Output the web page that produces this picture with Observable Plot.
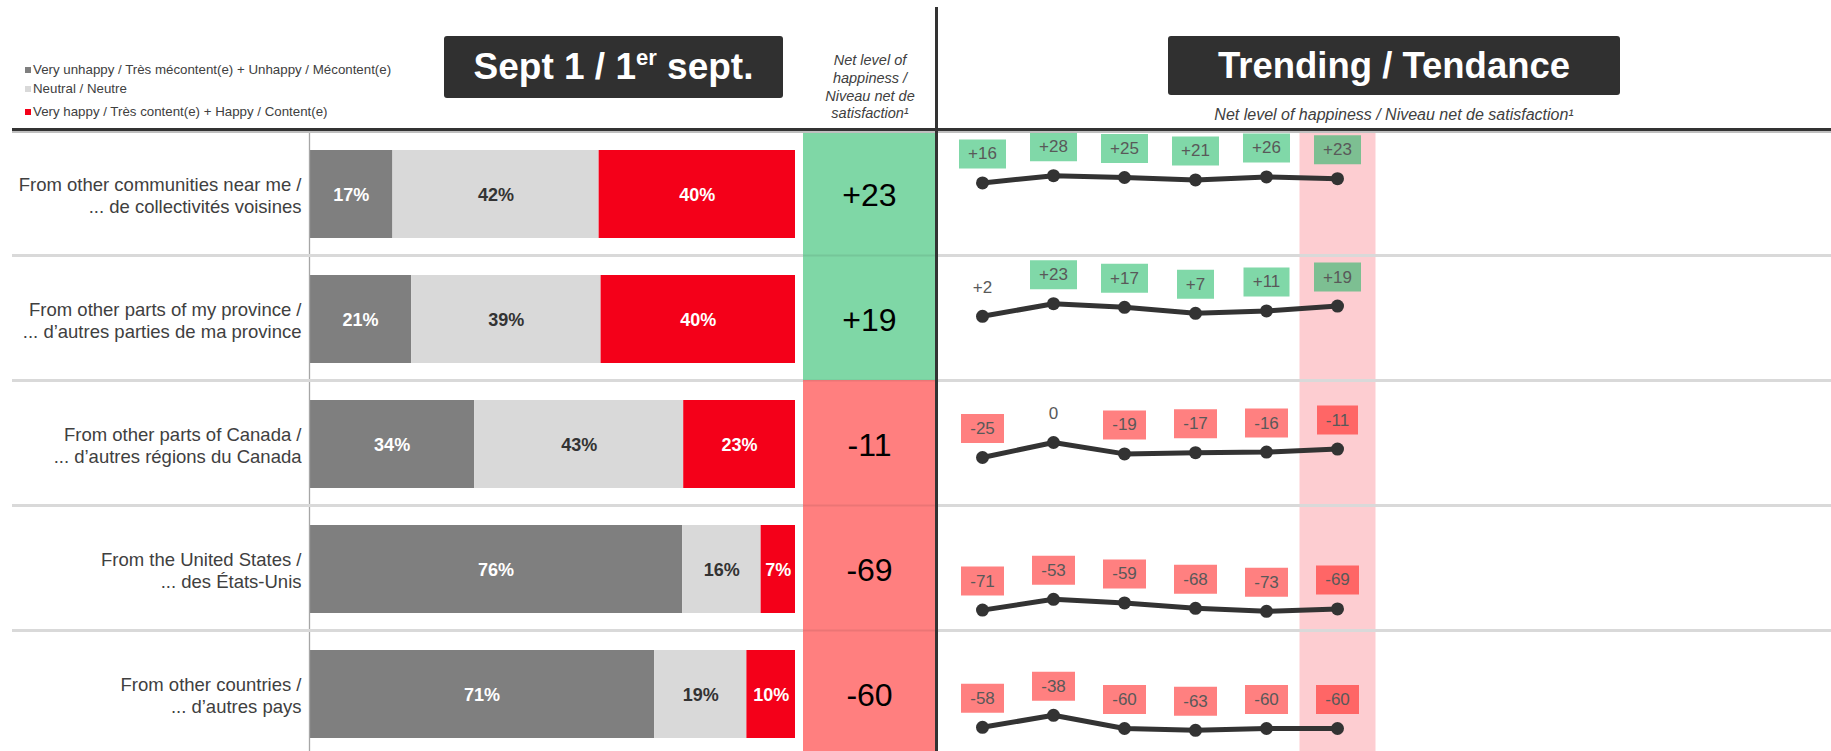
<!DOCTYPE html>
<html>
<head>
<meta charset="utf-8">
<script src="https://cdn.jsdelivr.net/npm/d3@7"></script>
<script src="https://cdn.jsdelivr.net/npm/@observablehq/plot@0.6"></script>
<style>
html, body { margin: 0; padding: 0; background: #fff; overflow: hidden; }
#root { position: relative; width: 1831px; height: 751px; overflow: hidden; font-family: 'Liberation Sans', Arial, Helvetica, sans-serif; color: #404040; }
.abs { position: absolute; }
.leg { position: absolute; left: 25px; height: 16px; line-height: 16px; font-size: 13.3px; color: #404040; white-space: nowrap; }
.leg i { display: inline-block; width: 6px; height: 6px; margin-right: 2px; vertical-align: 1px; }
.titlebox { position: absolute; background: #303030; border-radius: 3px; color: #fff; font-weight: bold; text-align: center; white-space: nowrap; }
.note { position: absolute; font-style: italic; color: #404040; text-align: center; white-space: nowrap; }
</style>
</head>
<body>
<div id="root"></div>
<script>
// ---------- data ----------
const categories = [
  "From other communities near me /\n... de collectivités voisines",
  "From other parts of my province /\n... d’autres parties de ma province",
  "From other parts of Canada /\n... d’autres régions du Canada",
  "From the United States /\n... des États-Unis",
  "From other countries /\n... d’autres pays"
];
const seriesNames = [
  "Very unhappy / Très mécontent(e) + Unhappy / Mécontent(e)",
  "Neutral / Neutre",
  "Very happy / Très content(e) + Happy / Content(e)"
];
const unhappy = [17, 21, 34, 76, 71];
const neutral = [42, 39, 43, 16, 19];
const happy   = [40, 40, 23, 7, 10];
const netLevel = [23, 19, -11, -69, -60];
const periods = ["Wave 1", "Wave 2", "Wave 3", "Wave 4", "Wave 5", "Sept 1"];
const trend1 = [16, 28, 25, 21, 26, 23];
const trend2 = [2, 23, 17, 7, 11, 19];
const trend3 = [-25, 0, -19, -17, -16, -11];
const trend4 = [-71, -53, -59, -68, -73, -69];
const trend5 = [-58, -38, -60, -63, -60, -60];

// ---------- styles ----------
const FONT = "'Liberation Sans', Arial, Helvetica, sans-serif";
const C_UNHAPPY = "#7f7f7f", C_NEUTRAL = "#d9d9d9", C_HAPPY = "#f40019";
const NET_GREEN = "#7fd7a6", NET_RED = "#ff7f7f";
const BOX_GREEN = "#80d8a8", BOX_GREEN_LAST = "#7dbf92", BOX_RED = "#ff8080", BOX_RED_LAST = "#ff6666";
const PINK = "#fdcdd1";
const fmt = v => v > 0 ? "+" + v : String(v);

const root = document.getElementById("root");
function place(el, left, top, z) {
  el.style.position = "absolute";
  el.style.left = left + "px";
  el.style.top = top + "px";
  el.style.zIndex = z;
  root.appendChild(el);
}

// ---------- Plot A: stacked bars + category labels ----------
const barData = [];
categories.forEach((c, i) => {
  [unhappy, neutral, happy].forEach((arr, s) => barData.push({cat: c, series: seriesNames[s], value: arr[i]}));
});
const plotA = Plot.plot({
  width: 803, height: 625,
  marginLeft: 309, marginRight: 8, marginTop: 0, marginBottom: 0,
  style: {background: "transparent", fontFamily: FONT},
  x: {domain: [0, 1], axis: null},
  y: {type: "band", domain: categories, range: [1.5, 626.5], paddingInner: 0.3, paddingOuter: 0.15, axis: null},
  color: {domain: [...seriesNames, "textLight", "textDark"], range: [C_UNHAPPY, C_NEUTRAL, C_HAPPY, "#ffffff", "#333333"]},
  marks: [
    Plot.barX(barData, Plot.stackX({offset: "normalize", x: "value", y: "cat", z: "series", fill: "series"})),
    Plot.text(barData, Plot.stackX({
      offset: "normalize", x: "value", y: "cat", z: "series",
      text: d => d.value + "%",
      fill: d => d.series === seriesNames[1] ? "textDark" : "textLight",
      fontSize: 18, fontWeight: "bold", dy: 1
    })),
    Plot.ruleX([0], {stroke: "#a6a6a6", strokeWidth: 1.3}),
    Plot.text(categories, {y: d => d, text: d => d, frameAnchor: "left", textAnchor: "end", dx: -8,
      fontSize: 18.5, lineHeight: 1.2, fill: "#404040"})
  ]
});
place(plotA, 0, 130, 1);

// ---------- Plot C: trend sparklines ----------
const trendRows = [trend1, trend2, trend3, trend4, trend5];
const trendData = [];
categories.forEach((c, i) => trendRows[i].forEach((v, j) =>
  trendData.push({cat: c, period: periods[j], value: v, last: j === periods.length - 1})));

const mctx = document.createElement("canvas").getContext("2d");
mctx.font = "17px 'Liberation Sans', Arial, sans-serif";
const boxWidth = d => Math.round(mctx.measureText(fmt(d.value)).width + 18);
const boxSymbol = (w, h) => ({draw(context) { context.rect(-w / 2, -h / 2, w, h); }});
const boxed = trendData.filter(d => Math.abs(d.value) >= 5);
const widths = [...new Set(boxed.map(boxWidth))];
const boxFill = d => d.value > 0 ? (d.last ? BOX_GREEN_LAST : BOX_GREEN) : (d.last ? BOX_RED_LAST : BOX_RED);
const boxMarks = widths.map(w => Plot.dot(boxed.filter(d => boxWidth(d) === w), {
  x: "period", y: "value", fy: "cat", symbol: boxSymbol(w, 29), r: 5,
  fill: boxFill, stroke: "none", dy: -29
}));

const plotC = Plot.plot({
  width: 893, height: 625, margin: 0,
  style: {background: "transparent", fontFamily: FONT},
  x: {type: "point", domain: periods, range: [43.7, 400], padding: 0, axis: null},
  y: {domain: [-100, 100], range: [122, 2], axis: null},
  fy: {domain: categories, range: [0, 625], padding: 0, axis: null},
  color: {type: "identity"},
  marks: [
    Plot.ruleX([periods[periods.length - 1]], {stroke: PINK, strokeWidth: 76}),
    Plot.line(trendData, {x: "period", y: "value", fy: "cat", stroke: "#333333", strokeWidth: 5}),
    Plot.dot(trendData, {x: "period", y: "value", fy: "cat", r: 6.5, fill: "#333333"}),
    ...boxMarks,
    Plot.text(trendData, {x: "period", y: "value", fy: "cat", text: d => fmt(d.value), dy: -29,
      fontSize: 17, fill: "#595959"})
  ]
});
place(plotC, 938, 130, 1);

// ---------- Plot D: row separators ----------
const plotD = Plot.plot({
  width: 1831, height: 625, marginLeft: 12, marginRight: 0, marginTop: 0, marginBottom: 0,
  style: {background: "transparent", fontFamily: FONT},
  y: {type: "band", domain: categories, range: [0, 625], padding: 0, axis: null},
  marks: [
    Plot.ruleY(categories.slice(0, categories.length - 1), {dy: 62.5, stroke: "#d9d9d9", strokeWidth: 3})
  ]
});
plotD.style.pointerEvents = "none";
place(plotD, 0, 130, 2);

// ---------- Plot B: net level column ----------
const netData = categories.map((c, i) => ({cat: c, net: netLevel[i]}));
const plotB = Plot.plot({
  width: 132, height: 625, margin: 0,
  style: {background: "transparent", fontFamily: FONT},
  y: {type: "band", domain: categories, range: [0, 625], padding: 0, axis: null},
  color: {type: "identity"},
  marks: [
    Plot.cell(netData, {y: "cat", fill: d => d.net >= 0 ? NET_GREEN : NET_RED}),
    Plot.ruleY(categories.slice(0, categories.length - 1), {dy: 62.5, stroke: "#000000", strokeOpacity: 0.08, strokeWidth: 2}),
    Plot.text(netData, {y: "cat", text: d => fmt(d.net), fontSize: 32, fill: "#000000", dy: 3})
  ]
});
place(plotB, 803, 130, 3);

// ---------- header (HTML) ----------
const header = document.createElement("div");
header.innerHTML = `
  <div class="leg" style="top:62px"><i style="background:${C_UNHAPPY}"></i>${seriesNames[0]}</div>
  <div class="leg" style="top:81px"><i style="background:${C_NEUTRAL}"></i>${seriesNames[1]}</div>
  <div class="leg" style="top:103.5px"><i style="background:${C_HAPPY}"></i>${seriesNames[2]}</div>
  <div class="titlebox" style="left:444px;top:36px;width:339px;height:62px;line-height:62px;font-size:37px;">Sept 1 / 1<sup style="font-size:22px;line-height:0;vertical-align:14px;">er</sup> sept.</div>
  <div class="note" style="left:800px;top:52px;width:140px;font-size:14.5px;line-height:17.8px;">Net level of<br>happiness /<br>Niveau net de<br>satisfaction¹</div>
  <div class="titlebox" style="left:1168px;top:36px;width:452px;height:59px;line-height:59px;font-size:36.5px;">Trending / Tendance</div>
  <div class="note" style="left:1094px;top:106px;width:600px;font-size:16px;line-height:18px;">Net level of happiness / Niveau net de satisfaction¹</div>
  <div class="abs" style="left:12px;top:128px;width:1819px;height:3px;background:#333;z-index:4"></div>
  <div class="abs" style="left:12px;top:131px;width:1819px;height:1.5px;background:#bfbfbf;z-index:4"></div>
  <div class="abs" style="left:935px;top:7px;width:2.5px;height:744px;background:#333;z-index:5"></div>
`;
root.appendChild(header);
</script>
</body>
</html>
